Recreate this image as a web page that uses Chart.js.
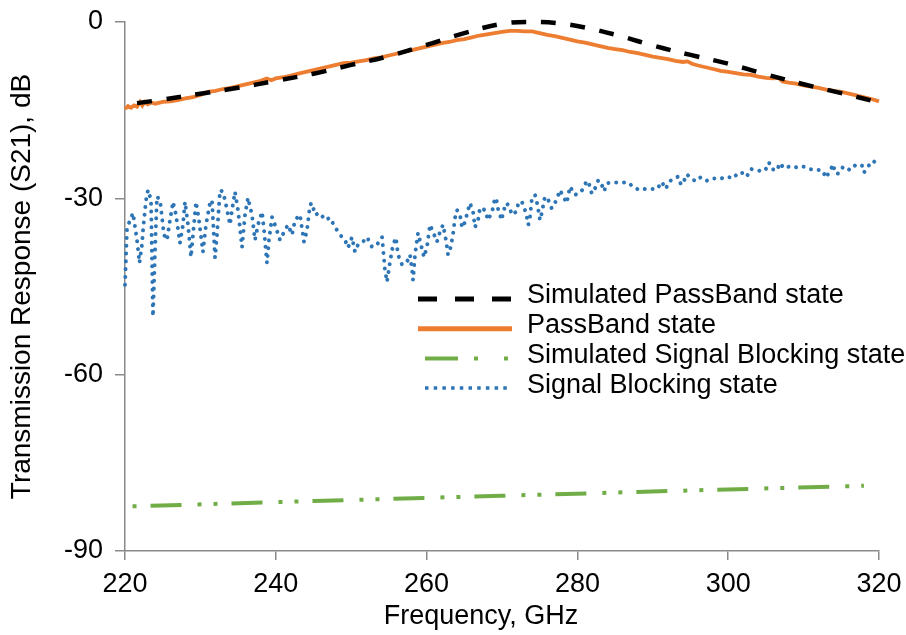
<!DOCTYPE html>
<html>
<head>
<meta charset="utf-8">
<script src="https://cdn.jsdelivr.net/npm/chart.js@4.4.1/dist/chart.umd.min.js"></script>
<style>
  html, body { margin: 0; padding: 0; background: #ffffff; }
  canvas { display: block; }
</style>
</head>
<body>
<canvas id="chart" width="906" height="635"></canvas>
<script>
// Axis ticks
const xTicks = [220, 240, 260, 280, 300, 320];
const yTicks = [-90, -60, -30, 0];

// Axis titles
const xTitle = 'Frequency, GHz';
const yTitle = 'Transmission Response (S21), dB';

// Series names
const seriesLabels = [
  'Simulated PassBand state',
  'PassBand state',
  'Simulated Signal Blocking state',
  'Signal Blocking state'
];

// Simulated pass-band response (GHz, dB)
const simPassFreq = [221.6, 225, 230, 235, 240, 245, 250, 255, 260, 265, 270, 274, 278, 282, 286, 290, 295, 300, 305, 310, 315, 320];
const simPassDb   = [-13.8, -13.2, -12.2, -11.2, -10.0, -8.8, -7.3, -5.8, -3.9, -1.9, -0.3, 0.0, -0.3, -1.2, -2.5, -4.0, -5.6, -7.1, -8.9, -10.6, -12.1, -13.7];

// Measured pass-band response (GHz, dB)
const passFreq = [220.0, 220.4, 220.8, 221.2, 221.6, 222.0, 222.3, 222.6, 223.0, 223.5, 224, 225, 226, 227, 228, 229, 230, 231, 232, 233, 234, 235, 236, 237, 238, 238.8, 239.4, 240, 241, 242, 243, 244, 245, 246, 247, 248, 249, 250, 251, 252, 253, 254, 255, 256, 257, 258, 259, 260, 261, 262, 263, 264, 265, 266, 267, 268, 269, 270, 271, 272, 273, 274, 275, 276, 277, 278, 279, 280, 281, 282, 283, 284, 285, 286, 287, 288, 289, 290, 291, 292, 293, 294, 294.6, 295.2, 296, 297, 298, 299, 300, 301, 302, 303, 304, 305, 306, 306.7, 307.2, 308, 309, 310, 311, 312, 313, 314, 315, 316, 317, 318, 319, 320];
const passDb   = [-14.8, -14.3, -14.6, -14.2, -14.4, -13.6, -14.2, -13.6, -14.0, -13.7, -13.9, -13.6, -13.5, -13.3, -13.0, -12.8, -12.4, -11.9, -11.7, -11.4, -11.2, -10.9, -10.6, -10.3, -10.0, -9.6, -9.9, -9.6, -9.4, -9.1, -8.8, -8.5, -8.2, -7.9, -7.6, -7.3, -7.0, -6.9, -6.7, -6.5, -6.2, -6.0, -5.7, -5.4, -5.1, -4.8, -4.5, -4.2, -3.9, -3.6, -3.4, -3.1, -2.9, -2.6, -2.3, -2.1, -1.9, -1.7, -1.5, -1.5, -1.6, -1.6, -1.9, -2.2, -2.4, -2.7, -3.0, -3.3, -3.5, -3.8, -4.1, -4.4, -4.6, -4.8, -5.1, -5.3, -5.6, -5.9, -6.1, -6.3, -6.6, -6.8, -6.7, -7.1, -7.4, -7.7, -8.0, -8.3, -8.5, -8.7, -8.9, -9.0, -9.3, -9.5, -9.6, -9.5, -10.1, -10.3, -10.5, -10.8, -11.0, -11.2, -11.5, -11.7, -11.9, -12.2, -12.5, -12.8, -13.1, -13.5];

// Simulated signal-blocking response (GHz, dB)
const simBlockFreq = [221, 245, 270, 295, 318];
const simBlockDb   = [-82.4, -81.5, -80.6, -79.7, -78.9];

// Measured signal-blocking response (GHz, dB)
const blockFreq = [
  220.00, 220.27, 221.06, 221.59, 221.92, 222.25, 222.39, 222.79, 223.05, 223.45,
  223.71, 223.98, 224.24, 224.64, 225.17, 225.57, 225.97, 226.37, 226.76, 227.29,
  227.69, 227.96, 228.36, 228.75, 229.02, 229.42, 229.81, 230.34, 230.74, 231.27,
  231.54, 231.94, 232.20, 232.60, 233.00, 233.40, 233.93, 234.19, 234.59, 234.99,
  235.52, 235.92, 236.31, 236.84, 237.24, 237.64, 238.17, 238.44, 238.83, 239.10,
  239.50, 239.89, 240.56, 241.22, 241.62, 242.15, 242.55, 243.21, 243.74, 244.14,
  244.54, 244.80, 245.20, 245.87, 246.53, 247.19, 247.85, 248.52, 249.18, 249.58,
  250.11, 250.50, 250.90, 251.43, 252.10, 252.76, 253.42, 254.09, 254.48, 254.75,
  255.15, 255.55, 255.94, 256.21, 256.74, 257.40, 257.80, 258.07, 258.20, 258.46,
  258.86, 259.26, 259.66, 260.05, 260.45, 260.85, 261.38, 261.78, 262.18, 262.57,
  262.84, 263.10, 263.50, 263.77, 264.03, 264.43, 264.70, 264.96, 265.23, 265.49,
  265.76, 266.16, 266.42, 266.82, 267.08, 267.75, 268.14, 268.68, 269.07, 269.30,
  269.51, 269.96, 270.17, 270.63, 271.06, 271.29, 271.95, 272.16, 272.61, 273.05,
  273.28, 273.49, 273.72, 273.94, 274.38, 274.60, 274.82, 275.04, 275.27, 275.48,
  275.70, 276.14, 276.59, 277.03, 277.47, 277.69, 278.13, 278.58, 278.80, 279.02,
  279.68, 280.35, 280.79, 281.24, 281.67, 281.90, 282.34, 282.78, 283.23, 283.53,
  283.97, 284.77, 285.65, 286.75, 287.51, 288.31, 288.97, 289.72, 290.60, 291.18,
  291.75, 292.06, 292.64, 293.38, 293.74, 294.05, 294.50, 295.16, 295.73, 296.36,
  297.15, 298.03, 298.92, 299.80, 300.68, 301.34, 302.01, 302.46, 302.99, 304.13,
  304.88, 305.41, 305.77, 306.43, 306.87, 307.40, 308.29, 309.30, 309.96, 310.63,
  311.29, 312.09, 312.53, 312.97, 313.50, 313.94, 314.17, 314.61, 315.27, 316.16,
  316.82, 317.71, 318.01, 318.59, 319.25, 319.91
];
const blockDb = [
  -44.7, -35.0, -32.5, -37.1, -41.0, -37.9, -35.4, -30.3, -28.6, -30.3,
  -50.1, -38.8, -29.7, -30.3, -36.2, -37.1, -33.7, -30.6, -32.8, -37.6,
  -34.5, -30.6, -34.5, -40.0, -36.2, -30.6, -33.7, -39.1, -34.5, -30.8,
  -30.3, -40.1, -36.2, -28.6, -28.9, -31.1, -34.5, -32.0, -28.9, -32.0,
  -38.3, -32.8, -29.9, -32.8, -37.1, -34.5, -32.3, -35.4, -41.0, -37.1,
  -33.2, -34.5, -37.1, -35.4, -34.5, -36.2, -33.7, -32.8, -37.4, -35.4,
  -31.1, -30.8, -32.8, -32.5, -33.7, -33.3, -34.9, -36.2, -37.1, -38.4,
  -36.6, -39.1, -37.9, -37.6, -36.6, -38.3, -37.9, -36.6, -42.2, -44.2,
  -40.8, -37.9, -36.7, -39.6, -41.3, -40.8, -39.6, -42.2, -43.9, -39.6,
  -35.9, -37.9, -40.0, -38.3, -34.5, -35.7, -37.4, -35.7, -34.5, -37.1,
  -39.6, -38.8, -36.2, -33.3, -32.0, -32.8, -35.0, -34.5, -33.3, -32.0,
  -30.8, -32.3, -34.9, -33.7, -31.6, -32.0, -33.7, -32.3, -29.9, -30.5,
  -32.0, -33.7, -32.2, -30.8, -31.7, -32.8, -32.2, -30.8, -30.5, -32.0,
  -33.1, -34.5, -33.1, -30.3, -29.4, -30.5, -32.0, -33.7, -32.5, -31.1,
  -29.7, -30.3, -31.7, -30.8, -29.4, -28.6, -29.7, -30.8, -29.4, -28.0,
  -29.4, -29.1, -28.3, -27.0, -27.9, -29.2, -28.3, -26.9, -27.7, -28.8,
  -27.4, -27.3, -27.3, -27.3, -28.2, -28.6, -28.4, -28.4, -28.4, -27.2,
  -28.4, -27.3, -26.7, -26.3, -27.7, -27.3, -25.9, -26.7, -27.1, -26.4,
  -27.0, -26.6, -26.7, -26.3, -26.6, -25.6, -25.7, -26.3, -25.0, -25.3,
  -25.3, -23.9, -25.0, -25.3, -24.0, -24.9, -24.5, -24.8, -24.6, -24.9,
  -25.2, -25.2, -25.3, -26.5, -25.3, -24.2, -25.7, -25.8, -24.6, -25.2,
  -24.4, -24.3, -25.6, -24.5, -23.6, -24.6
];

const FONT = "'Liberation Sans', Arial, sans-serif";
const FONT_SIZE = 27;
const pts = (xs, ys) => xs.map((x, i) => ({ x: x, y: ys[i] }));

// Legend swatches, one per series, in series order
const legendStyles = [
  { color: '#000000', width: 5,   dash: [19, 18],               from: 418, to: 512, cap: 'butt' },
  { color: '#ED7D31', width: 5,   dash: [],                     from: 418, to: 512, cap: 'butt' },
  { color: '#70AD47', width: 4,   dash: [33, 16, 4, 26, 4, 60], from: 425, to: 508, cap: 'butt' },
  { color: '#2E75B6', width: 3.5, dash: [3.5, 5.2],             from: 425, to: 508, cap: 'butt' }
];

// Legend sitting inside the plot area, plus the x-axis caption
const insideLegend = {
  id: 'insideLegend',
  afterDraw(chart) {
    const ctx = chart.ctx;
    const textX = 527, firstY = 296, rowGap = 29.7;
    chart.data.datasets.forEach((ds, i) => {
      const st = legendStyles[i];
      const y = firstY + i * rowGap;
      ctx.save();
      ctx.strokeStyle = st.color;
      ctx.lineWidth = st.width;
      ctx.lineCap = st.cap;
      ctx.setLineDash(st.dash);
      ctx.beginPath();
      ctx.moveTo(st.from, y + 3);
      ctx.lineTo(st.to, y + 3);
      ctx.stroke();
      ctx.restore();
      ctx.save();
      ctx.fillStyle = '#000000';
      ctx.font = FONT_SIZE + 'px ' + FONT;
      ctx.textBaseline = 'middle';
      ctx.textAlign = 'left';
      ctx.fillText(ds.label, textX, y);
      ctx.restore();
    });
    // x-axis caption, centred a little left of the plot centre
    const xs = chart.scales.x;
    ctx.save();
    ctx.fillStyle = '#000000';
    ctx.font = FONT_SIZE + 'px ' + FONT;
    ctx.textBaseline = 'middle';
    ctx.textAlign = 'center';
    ctx.fillText(xTitle, (xs.left + xs.right) / 2 - 21, 617);
    ctx.restore();
  }
};

new Chart(document.getElementById('chart'), {
  type: 'line',
  data: {
    datasets: [
      {
        label: seriesLabels[0],
        data: pts(simPassFreq, simPassDb),
        borderColor: '#000000',
        borderWidth: 4.5,
        borderDash: [15, 14.5],
        tension: 0.4,
        pointRadius: 0,
        fill: false,
        clip: false
      },
      {
        label: seriesLabels[1],
        data: pts(passFreq, passDb),
        borderColor: '#ED7D31',
        borderWidth: 3.8,
        tension: 0,
        pointRadius: 0,
        fill: false,
        clip: false
      },
      {
        label: seriesLabels[2],
        data: pts(simBlockFreq, simBlockDb),
        borderColor: '#70AD47',
        borderWidth: 4,
        borderDash: [31, 16, 4, 12, 4, 14],
        borderDashOffset: 63,
        tension: 0,
        pointRadius: 0,
        fill: false,
        clip: false
      },
      {
        label: seriesLabels[3],
        data: pts(blockFreq, blockDb),
        borderColor: '#2E75B6',
        borderWidth: 4,
        borderDash: [0.01, 7.8],
        borderCapStyle: 'round',
        borderJoinStyle: 'round',
        tension: 0,
        pointRadius: 0,
        fill: false,
        clip: false
      }
    ]
  },
  options: {
    responsive: false,
    devicePixelRatio: 1,
    animation: false,
    layout: { padding: { left: 0, right: 27, top: 22, bottom: 0 } },
    plugins: {
      legend: { display: false },
      tooltip: { enabled: false }
    },
    scales: {
      x: {
        type: 'linear',
        min: 220,
        max: 320,
        afterBuildTicks: s => { s.ticks = xTicks.map(v => ({ value: v })); },
        afterFit: s => { s.height = 84; s.paddingLeft = 0; s.paddingRight = 0; },
        grid: { display: true, drawOnChartArea: false, drawTicks: true, tickLength: 9, color: '#8a8a8a', lineWidth: 1.5 },
        border: { display: true, color: '#8a8a8a', width: 1.5 },
        ticks: {
          color: '#000000',
          font: { family: FONT, size: FONT_SIZE, lineHeight: 1.2 },
          padding: 8,
          maxRotation: 0,
          callback: v => String(v)
        },
        title: { display: false }
      },
      y: {
        type: 'linear',
        min: -90,
        max: 0,
        afterBuildTicks: s => { s.ticks = yTicks.map(v => ({ value: v })); },
        afterFit: s => { s.width = 125; s.paddingTop = 0; s.paddingBottom = 0; },
        grid: { display: true, drawOnChartArea: false, drawTicks: true, tickLength: 10, color: '#8a8a8a', lineWidth: 1.5 },
        border: { display: true, color: '#8a8a8a', width: 1.5 },
        ticks: {
          color: '#000000',
          font: { family: FONT, size: FONT_SIZE, lineHeight: 1.2 },
          padding: 12,
          callback: v => String(v)
        },
        title: {
          display: true,
          text: yTitle,
          color: '#000000',
          font: { family: FONT, size: 28, lineHeight: 1.2 },
          padding: { top: 5, bottom: 0 }
        }
      }
    }
  },
  plugins: [insideLegend]
});
</script>
</body>
</html>
